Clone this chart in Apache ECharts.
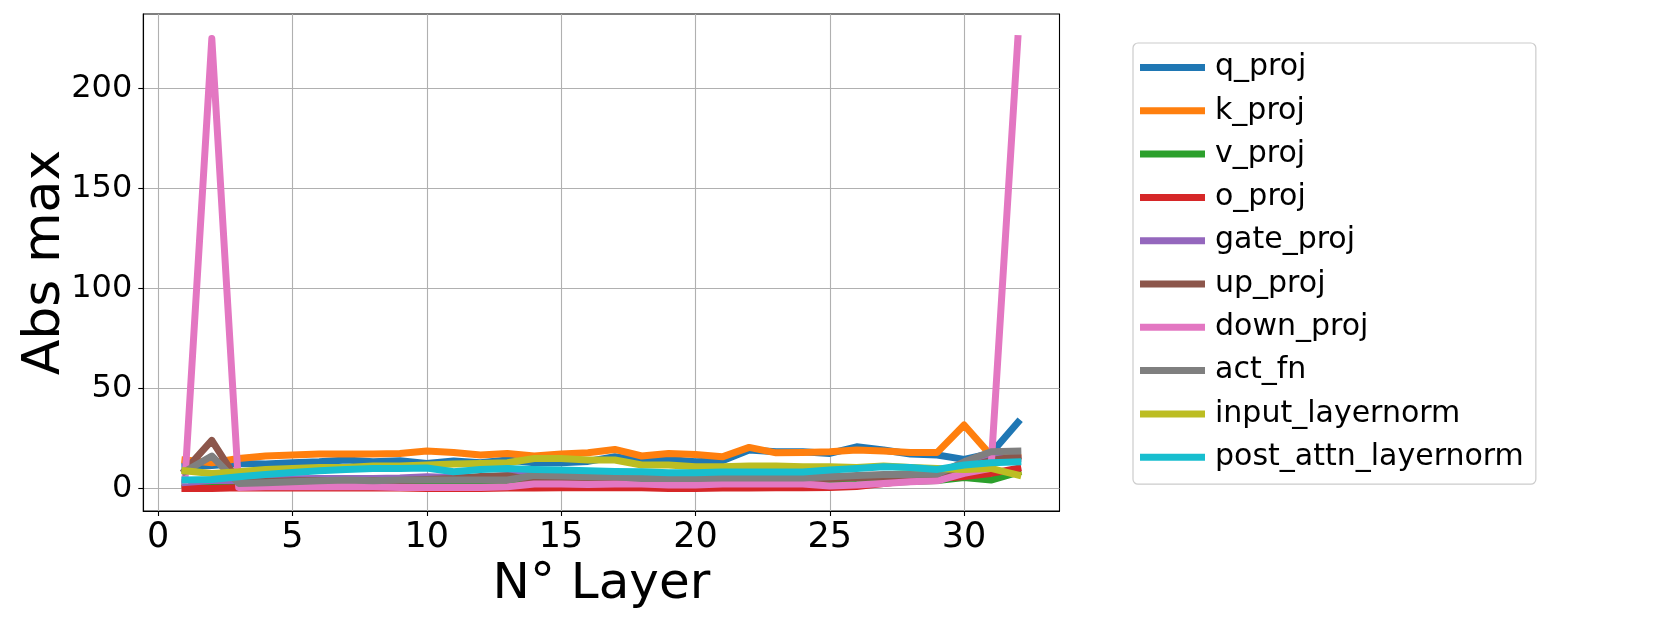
<!DOCTYPE html>
<html>
<head>
<meta charset="UTF-8">
<title>Abs max per layer</title>
<script src="https://cdn.jsdelivr.net/npm/echarts@6/dist/echarts.min.js"></script>
<style>
	html, body { margin: 0; padding: 0; background: #fff; }
	#main { width: 1661px; height: 623px; }
</style>
</head>
<body>
<div id="main"></div>
<script type="text/javascript">
	// layers 1..32
	var layers = [1, 2, 3, 4, 5, 6, 7, 8, 9, 10, 11, 12, 13, 14, 15, 16, 17, 18, 19, 20, 21, 22, 23, 24, 25, 26, 27, 28, 29, 30, 31, 32];
	var xTicks = [0, 5, 10, 15, 20, 25, 30];
	var yTicks = [0, 50, 100, 150, 200];

	var q_proj = [11, 11.5, 12.5, 12.2, 12.8, 13.3, 14.2, 13.3, 13.8, 12.5, 13.7, 12.8, 14.2, 12.8, 12.8, 13.5, 15.8, 13.8, 14.5, 13.3, 13.8, 19.2, 18.3, 18.3, 17.5, 20.8, 19.2, 17.2, 16.7, 14.5, 17.5, 33];
	var k_proj = [14.2, 12.8, 15, 16.2, 16.7, 17.2, 17.2, 17.2, 17.5, 18.7, 18, 16.7, 17.5, 16.2, 17.2, 17.8, 19.5, 16.2, 17.5, 17, 15.8, 20.5, 17.8, 18, 18.3, 19.2, 18.7, 18, 18, 31.7, 16.5, 15.5];
	var v_proj = [2, 2.5, 2.5, 2.5, 2.5, 2.5, 2.5, 2.5, 2.5, 2.5, 2.5, 2.5, 2.5, 3, 3, 3, 3, 3, 3, 3, 3, 3, 3, 3, 3, 3, 3, 3.5, 4, 5.5, 4.2, 8];
	var o_proj = [0, 0, 0.3, 0.2, 0.2, 0.2, 0.2, 0.2, 0.2, 0, 0, 0, 0.2, 0.2, 0.3, 0.3, 0.3, 0.3, 0, 0, 0.2, 0.2, 0.3, 0.3, 0.5, 1, 2.5, 4, 5, 6, 7.5, 10];
	var gate_proj = [3, 4, 4, 4.5, 4.8, 5, 5, 5, 5.2, 5.8, 5.5, 5.5, 6.5, 6.5, 6.5, 6.5, 6.2, 6, 6, 6, 6, 6, 6, 6, 6, 6, 6.5, 7, 8, 12.5, 15, 15];
	var up_proj = [9, 24, 3, 3.5, 3.8, 4, 4, 4, 4, 4.5, 5, 6, 6.3, 4, 4, 4, 4.5, 4.2, 4.2, 4.2, 4.5, 5.3, 4.5, 4.2, 5, 5.5, 5.8, 6.7, 7.2, 10, 14, 16];
	var down_proj = [4, 225, 0.5, 0.8, 0.8, 0.8, 1, 0.8, 0.5, 0.5, 0.5, 0.5, 0.8, 2.2, 2.2, 2, 2.2, 2.2, 1.7, 1.7, 2.2, 2.2, 2.2, 2.2, 1.2, 1.7, 2.5, 3.3, 3.8, 7.5, 10, 225];
	var act_fn = [8.5, 16.2, 2.5, 2.8, 3.3, 3.8, 4.2, 3.8, 4.2, 4.2, 4.2, 4.2, 4.2, 6.5, 6.2, 5.8, 5.8, 5, 5, 5, 5.2, 5.2, 5.2, 5.2, 5.8, 6.5, 7, 7, 7.2, 13.3, 18.3, 18.7];
	var input_layernorm = [8.8, 7.5, 8.3, 9.5, 10, 10.5, 10.5, 11.2, 11.2, 11.7, 12.2, 12.5, 12.8, 15, 15, 14.2, 14.2, 11.7, 11.7, 10.8, 10.8, 11.2, 11.2, 10.8, 10.8, 10.5, 11.2, 10.5, 10, 9.5, 10, 6.7];
	var post_attn_layernorm = [4.2, 4.5, 5.8, 7, 8, 8.8, 9.5, 10, 10, 10.2, 8.3, 9.5, 10, 9.5, 9.2, 8.8, 8.5, 8.3, 7.8, 7.8, 8.2, 8.2, 8.2, 8.2, 9.2, 10, 10.8, 10.5, 9.5, 11.7, 12.8, 13.3];

	var seriesNames = ['q_proj', 'k_proj', 'v_proj', 'o_proj', 'gate_proj', 'up_proj', 'down_proj', 'act_fn', 'input_layernorm', 'post_attn_layernorm'];
	var seriesValues = [q_proj, k_proj, v_proj, o_proj, gate_proj, up_proj, down_proj, act_fn, input_layernorm, post_attn_layernorm];
	var colors = ['#1f77b4', '#ff7f0e', '#2ca02c', '#d62728', '#9467bd', '#8c564b', '#e377c2', '#7f7f7f', '#bcbd22', '#17becf'];

	var font = 'DejaVu Sans';
	var echart = echarts.init(document.getElementById('main'), null, {renderer: 'canvas'});

	function buildSeries() {
		var list = [];
		for (var i = 0; i < seriesNames.length; i++) {
			var pts = [];
			for (var j = 0; j < layers.length; j++) {
				pts.push([layers[j], seriesValues[i][j]]);
			}
			list.push({
				name: seriesNames[i],
				type: 'line',
				data: pts,
				showSymbol: false,
				symbol: 'none',
				lineStyle: { width: 7, color: colors[i], cap: 'square', join: 'round' },
				itemStyle: { color: colors[i] }
			});
		}
		return list;
	}

	var option = {
		animation: false,
		backgroundColor: '#fff',
		color: colors,
		grid: {
			left: 143.3,
			top: 14,
			width: 916.2,
			height: 497,
			show: true,
			borderColor: '#000',
			borderWidth: 1.1,
			backgroundColor: 'transparent'
		},
		legend: {
			orient: 'vertical',
			left: 1133,
			top: 43,
			padding: [7.5, 12, 10, 7],
			itemWidth: 65,
			itemHeight: 7,
			itemGap: 9.3,
			icon: 'rect',
			backgroundColor: '#fff',
			borderColor: '#cccccc',
			borderWidth: 1.2,
			borderRadius: 5,
			textStyle: {
				fontFamily: font,
				fontSize: 30,
				color: '#000',
				lineHeight: 34,
				padding: [0, 0, 0, 5]
			},
			data: seriesNames
		},
		xAxis: {
			type: 'value',
			min: -0.55,
			max: 33.55,
			name: 'N° Layer',
			nameLocation: 'middle',
			nameGap: 47,
			nameTextStyle: { fontFamily: font, fontSize: 50, color: '#000' },
			axisLine: { show: true, onZero: false, lineStyle: { color: '#000', width: 1.1 } },
			axisTick: { show: true, length: 5, customValues: xTicks, lineStyle: { color: '#000', width: 1.1 } },
			axisLabel: { customValues: xTicks, fontFamily: font, fontSize: 35, color: '#000', margin: 9 },
			splitLine: { show: true, lineStyle: { color: '#b0b0b0', width: 1.1 } }
		},
		yAxis: {
			type: 'value',
			min: -11.3,
			max: 237.3,
			name: 'Abs max',
			nameLocation: 'middle',
			nameRotate: 90,
			nameGap: 72,
			nameMoveOverlap: false,
			nameTextStyle: { fontFamily: font, fontSize: 52, color: '#000' },
			axisLine: { show: true, onZero: false, lineStyle: { color: '#000', width: 1.1 } },
			axisTick: { show: true, length: 5, customValues: yTicks, lineStyle: { color: '#000', width: 1.1 } },
			axisLabel: { customValues: yTicks, fontFamily: font, fontSize: 32, color: '#000', margin: 11 },
			splitLine: { show: true, lineStyle: { color: '#b0b0b0', width: 1.1 } }
		},
		series: buildSeries()
	};

	echart.setOption(option, true);
</script>
</body>
</html>
